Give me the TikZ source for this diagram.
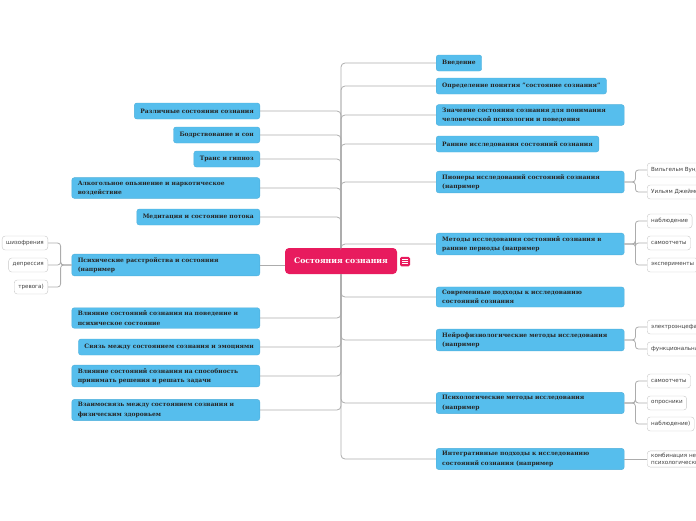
\documentclass[tikz,border=0pt]{standalone}
\usepackage{fontspec}
\setmainfont{DejaVu Serif}
\setsansfont{DejaVu Sans}
\definecolor{topicblue}{RGB}{86,190,237}
\definecolor{rootpink}{RGB}{232,27,94}
\definecolor{linegray}{RGB}{172,172,172}
\begin{document}
\begin{tikzpicture}[x=1pt,y=-1pt,
    topic/.style={draw=topicblue!92!black,fill=topicblue,rounded corners=2.5pt,
      font=\bfseries\fontsize{6}{9.5}\selectfont,text=black!85,
      inner xsep=6pt,inner ysep=3pt,minimum height=16pt,align=left},
    wide/.style={topic,text width=176pt},
    leaf/.style={draw=black!22,fill=white,rounded corners=3pt,
      font=\sffamily\fontsize{5.6}{7}\selectfont,text=black!75,
      inner xsep=4pt,inner ysep=2pt,minimum height=14pt,align=left},
    conn/.style={draw=linegray,line width=0.8pt,rounded corners=4pt}]
    \useasboundingbox (0,0) rectangle (696,520);

    \node[fill=rootpink,text=white,rounded corners=4pt,font=\bfseries\fontsize{7.7}{10}\selectfont,
      minimum width=112pt,minimum height=26pt] (root) at (341,261) {Состояния сознания};
    \node[fill=rootpink,rounded corners=1.5pt,minimum width=10pt,minimum height=9.5pt,inner sep=0pt] (menu) at (405,261.5) {};
    \foreach \dy in {-2.3,0,2.3}
        \draw[white,line width=0.7pt] ([xshift=-3pt,yshift=\dy pt]menu.center) -- ([xshift=3pt,yshift=\dy pt]menu.center);

    % right side
    \node[topic,anchor=west] (r1) at (436,63) {Введение};
    \node[topic,anchor=west] (r2) at (436,86) {Определение понятия "состояние сознания"};
    \node[wide,anchor=west] (r3) at (436,115) {Значение состояния сознания для понимания\\человеческой психологии и поведения};
    \node[topic,anchor=west] (r4) at (436,144) {Ранние исследования состояний сознания};
    \node[wide,anchor=west] (r5) at (436,182) {Пионеры исследований состояний сознания\\(например};
    \node[wide,anchor=west] (r6) at (436,244) {Методы исследования состояний сознания в\\ранние периоды (например};
    \node[wide,anchor=west] (r7) at (436,297) {Современные подходы к исследованию\\состояний сознания};
    \node[wide,anchor=west] (r8) at (436,340) {Нейрофизиологические методы исследования\\(например};
    \node[wide,anchor=west] (r9) at (436,403) {Психологические методы исследования\\(например};
    \node[wide,anchor=west] (r10) at (436,459) {Интегративные подходы к исследованию\\состояний сознания (например};

    \node[leaf,anchor=west] (w1) at (647,170) {Вильгельм Вундт};
    \node[leaf,anchor=west] (w2) at (647,192) {Уильям Джеймс};
    \node[leaf,anchor=west] (m1) at (647,221) {наблюдение};
    \node[leaf,anchor=west] (m2) at (647,243) {самоотчеты};
    \node[leaf,anchor=west] (m3) at (647,265) {эксперименты};
    \node[leaf,anchor=west] (n1) at (647,327) {электроэнцефалография};
    \node[leaf,anchor=west] (n2) at (647,349) {функциональная МРТ};
    \node[leaf,anchor=west] (p1) at (647,381) {самоотчеты};
    \node[leaf,anchor=west] (p2) at (647,403) {опросники};
    \node[leaf,anchor=west] (p3) at (647,424) {наблюдение)};
    \node[leaf,anchor=west] (i1) at (647,459) {комбинация нейрофизиологических и\\психологических методов};

    % left side
    \node[topic,anchor=east] (l1) at (260,111) {Различные состояния сознания};
    \node[topic,anchor=east] (l2) at (260,135) {Бодрствование и сон};
    \node[topic,anchor=east] (l3) at (260,159) {Транс и гипноз};
    \node[wide,anchor=east] (l4) at (260,188) {Алкогольное опьянение и наркотическое\\воздействие};
    \node[topic,anchor=east] (l5) at (260,217) {Медитация и состояние потока};
    \node[wide,anchor=east] (l6) at (260,265) {Психические расстройства и состояния\\(например};
    \node[wide,anchor=east] (l7) at (260,318) {Влияние состояний сознания на поведение и\\психическое состояние};
    \node[topic,anchor=east] (l8) at (260,347) {Связь между состоянием сознания и эмоциями};
    \node[wide,anchor=east] (l9) at (260,376) {Влияние состояний сознания на способность\\принимать решения и решать задачи};
    \node[wide,anchor=east] (l10) at (260,410) {Взаимосвязь между состоянием сознания и\\физическим здоровьем};

    \node[leaf,anchor=east] (s1) at (48,243) {шизофрения};
    \node[leaf,anchor=east] (s2) at (48,265) {депрессия};
    \node[leaf,anchor=east] (s3) at (48,287) {тревога)};

    % connectors
    \foreach \n in {r1,r2,r3,r4,r5,r6}
        \draw[conn] (root.north) |- (\n.west);
    \foreach \n in {r7,r8,r9,r10}
        \draw[conn] (root.south) |- (\n.west);
    \foreach \n in {l1,l2,l3,l4,l5}
        \draw[conn] (root.north) |- (\n.east);
    \foreach \n in {l7,l8,l9,l10}
        \draw[conn] (root.south) |- (\n.east);
    \draw[conn] (l6.east) -- (l6.east -| root.west);

    \foreach \p/\c in {r5/w1,r5/w2,r6/m1,r6/m2,r6/m3,r8/n1,r8/n2,r9/p1,r9/p2,r9/p3}
        \draw[conn,rounded corners=3pt] (\p.east) -- ++(11,0) |- (\c.west);
    \draw[conn] (r10.east) -- (i1.west);
    \foreach \c in {s1,s2,s3}
        \draw[conn,rounded corners=3pt] (l6.west) -- ++(-11,0) |- (\c.east);
\end{tikzpicture}
\end{document}
